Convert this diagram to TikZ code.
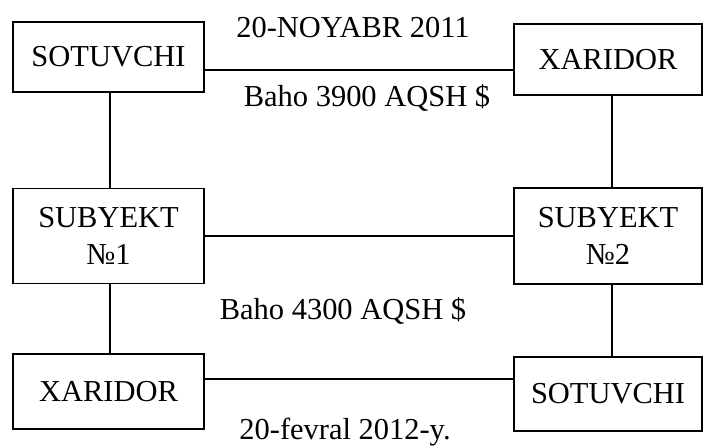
\documentclass[tikz,border=0pt]{standalone}
\usepackage{fontspec}
\setmainfont{Liberation Serif}
\usepackage{tikz}
\usetikzlibrary{positioning}
\tikzset{
  party/.style={draw=black,line width=1.6pt,fill=white,inner sep=2pt,
                minimum width=5.72cm,font=\fontsize{26}{31}\selectfont,align=center},
  deal/.style={draw=black,line width=1.6pt},
  dlab/.style={font=\fontsize{26}{31}\selectfont,inner sep=0pt},
}
\begin{document}
\begin{tikzpicture}[x=0.03cm,y=-0.03cm]
  \useasboundingbox (0,0) rectangle (704,447);

  % ---------- first deal (2011) ----------
  \node[party,minimum height=2.1cm] (sotA) at (108.5,57) {SOTUVCHI};
  \node[party,minimum width=5.64cm,minimum height=2.13cm] (xarA) at (608,59.5) {XARIDOR};
  \node[dlab] (dateA) at (353,28) {20-NOYABR 2011};
  \node[dlab] (priceA) at (367,98) {Baho 3900 AQSH \$};

  % ---------- subjects ----------
  \node[party,minimum height=2.85cm] (subA) at (108.5,236) {SUBYEKT\\№1};
  \node[party,minimum width=5.64cm,minimum height=2.9cm] (subB) at (608,236) {SUBYEKT\\№2};
  \node[dlab] (priceB) at (343,311) {Baho 4300 AQSH \$};

  % ---------- second deal (2012) ----------
  \node[party,minimum height=2.25cm] (xarB) at (108.5,391.5) {XARIDOR};
  \node[party,minimum width=5.64cm,minimum height=2.22cm] (sotB) at (608,394) {SOTUVCHI};
  \node[dlab] (dateB) at (345,432) {20-fevral 2012-y.};

  % connectors
  \draw[deal] ([yshift=-0.39cm]sotA.east) -- ([yshift=-0.315cm]xarA.west);
  \draw[deal] (subA.east) -- (subB.west);
  \draw[deal] ([yshift=0.375cm]xarB.east) -- ([yshift=0.45cm]sotB.west);
  \draw[deal] ([xshift=0.045cm]sotA.south) -- ([xshift=0.045cm]subA.north);
  \draw[deal] ([xshift=0.045cm]subA.south) -- ([xshift=0.045cm]xarB.north);
  \draw[deal] ([xshift=0.12cm]xarA.south) -- ([xshift=0.12cm]subB.north);
  \draw[deal] ([xshift=0.12cm]subB.south) -- ([xshift=0.12cm]sotB.north);
\end{tikzpicture}
\end{document}
